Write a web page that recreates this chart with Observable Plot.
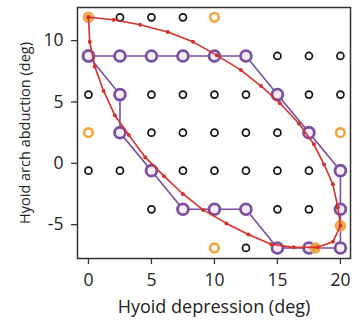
<!DOCTYPE html>
<html>
<head>
<meta charset="utf-8">
<script src="https://cdn.jsdelivr.net/npm/d3@7"></script>
<script src="https://cdn.jsdelivr.net/npm/@observablehq/plot@0.6"></script>
<style>
  html, body { margin: 0; padding: 0; background: #ffffff; }
  #chart { width: 356px; height: 329px; }
</style>
</head>
<body>
<div id="chart"></div>
<script>
// Tick labels
const xTicks = [0, 5, 10, 15, 20];
const yTicks = [-5, 0, 5, 10];

// Grid of sampled postures (black hollow circles)
const blackX = [2.5, 5, 7.5,  15, 17.5, 20,  0, 5, 7.5, 10, 12.5, 17.5, 20,  5, 7.5, 10, 12.5, 15,  0, 2.5, 7.5, 10, 12.5, 15, 17.5,  5, 15, 17.5,  12.5];
const blackY = [11.9, 11.9, 11.9,  8.75, 8.75, 8.75,  5.6, 5.6, 5.6, 5.6, 5.6, 5.6, 5.6,  2.5, 2.5, 2.5, 2.5, 2.5,  -0.6, -0.6, -0.6, -0.6, -0.6, -0.6, -0.6,  -3.75, -3.75, -3.75,  -6.9];

// Orange points (hollow and filled)
const orangeHollowX = [10, 0, 20, 10];
const orangeHollowY = [11.9, 2.5, 2.5, -6.9];
const orangeFilledX = [0, 20, 18];
const orangeFilledY = [11.9, -5.1, -6.9];

// Purple loop
const purpleX = [0, 2.5, 5, 7.5, 10, 12.5, 15, 17.5, 20, 20, 20, 17.5, 15, 12.5, 10, 7.5, 5, 2.5, 2.5, 0];
const purpleY = [8.75, 8.75, 8.75, 8.75, 8.75, 8.75, 5.6, 2.5, -0.6, -3.75, -6.9, -6.9, -6.9, -3.75, -3.75, -3.75, -0.6, 2.5, 5.6, 8.75];

// Red loop
const redX = [0, 2.0, 4.1, 6.3, 8.3, 10.2, 12.1, 13.7, 15.2, 16.7, 17.9, 18.7, 19.4, 19.8, 20.0, 19.4, 18.2, 16.3, 14.5, 12.7, 10.95, 9.1, 7.5, 6.0, 4.5, 3.2, 2.1, 1.2, 0.5, 0.1, 0];
const redY = [11.9, 11.7, 11.3, 10.7, 9.9, 8.8, 7.6, 6.3, 4.9, 3.25, 1.55, -0.1, -1.7, -3.6, -5.1, -6.4, -6.85, -6.85, -6.6, -5.8, -4.9, -3.8, -2.5, -1.05, 0.5, 2.3, 3.9, 5.9, 7.9, 9.9, 11.9];

const zip = (xs, ys) => xs.map((x, i) => ({x, y: ys[i]}));
const black = zip(blackX, blackY);
const orangeHollow = zip(orangeHollowX, orangeHollowY);
const orangeFilled = zip(orangeFilledX, orangeFilledY);
const purple = zip(purpleX, purpleY);
const red = zip(redX, redY);

const PURPLE = "#7b4fa3";
const RED = "#d8302b";
const ORANGE = "#f1a53a";
const FONT = "Open Sans, sans-serif";

const chart = Plot.plot({
  width: 356,
  height: 329,
  marginLeft: 77,
  marginRight: 6,
  marginTop: 7,
  marginBottom: 71,
  style: {fontFamily: FONT, background: "#ffffff", color: "#222"},
  x: {domain: [-0.87, 20.8]},
  y: {domain: [-7.76, 12.7]},
  marks: [
    Plot.frame({stroke: "#333", strokeWidth: 1.5}),
    Plot.axisX({ticks: xTicks, tickFormat: d => String(d), tickSize: 6, tickPadding: 9, fontSize: 17.5, label: null, stroke: "#333", strokeWidth: 1.3}),
    Plot.axisY({ticks: yTicks, tickFormat: d => String(d), tickSize: 6, tickPadding: 8, fontSize: 17.5, label: null, stroke: "#333", strokeWidth: 1.3}),
    Plot.text(["Hyoid depression (deg)"], {frameAnchor: "bottom", textAnchor: "middle", dy: 54, fontSize: 18, fill: "#222"}),
    Plot.text(["Hyoid arch abduction (deg)"], {frameAnchor: "left", textAnchor: "middle", dx: -52, rotate: -90, fontSize: 14.5, fill: "#222"}),
    Plot.dot(black, {x: "x", y: "y", r: 3.5, stroke: "#111", strokeWidth: 1.7, fill: "white"}),
    Plot.dot(orangeHollow, {x: "x", y: "y", r: 4.3, stroke: ORANGE, strokeWidth: 2.6, fill: "white"}),
    Plot.line(purple, {x: "x", y: "y", stroke: PURPLE, strokeWidth: 1.6}),
    Plot.dot(purple, {x: "x", y: "y", r: 5.4, stroke: PURPLE, strokeWidth: 2.8, fill: "#f3eef8"}),
    Plot.dot(orangeFilled, {x: "x", y: "y", r: 5, stroke: ORANGE, strokeWidth: 1.5, fill: ORANGE, fillOpacity: 0.85}),
    Plot.line(red, {x: "x", y: "y", stroke: RED, strokeWidth: 1.6}),
    Plot.dot(red, {x: "x", y: "y", r: 2, fill: RED, stroke: "none"})
  ]
});
document.getElementById("chart").appendChild(chart);
</script>
</body>
</html>
